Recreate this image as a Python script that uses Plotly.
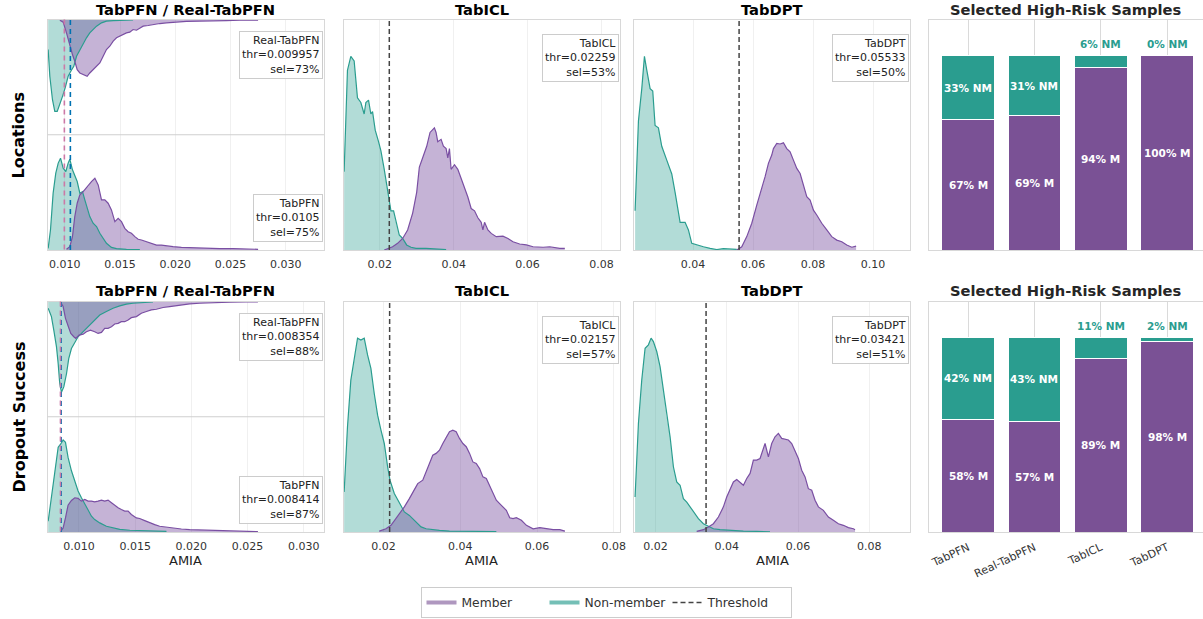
import plotly.graph_objects as go

# ---------------- DATA ----------------
models = ["TabPFN", "Real-TabPFN", "TabICL", "TabDPT"]

# Locations: selected high-risk samples (% member / % non-member)
loc_member_pct = [67, 69, 94, 100]
loc_nonmember_pct = [33, 31, 6, 0]
# Dropout Success
drop_member_pct = [58, 57, 89, 98]
drop_nonmember_pct = [42, 43, 11, 2]

# thresholds and selection rates
loc_thr = {"TabPFN": 0.0105, "Real-TabPFN": 0.009957, "TabICL": 0.02259, "TabDPT": 0.05533}
loc_sel = {"TabPFN": 75, "Real-TabPFN": 73, "TabICL": 53, "TabDPT": 50}
drop_thr = {"TabPFN": 0.008414, "Real-TabPFN": 0.008354, "TabICL": 0.02157, "TabDPT": 0.03421}
drop_sel = {"TabPFN": 87, "Real-TabPFN": 88, "TabICL": 57, "TabDPT": 51}

# AMIA density curves (relative density, % of panel height)
loc_tabpfn_nm_x = [0.00849, 0.00870, 0.00894, 0.00918, 0.00940, 0.00961, 0.00985, 0.01009, 0.01030, 0.01045, 0.01069, 0.01090, 0.01112, 0.01136, 0.01160, 0.01181, 0.01202, 0.01226, 0.01256, 0.01287, 0.01317, 0.01347, 0.01377, 0.01422, 0.01468, 0.01558, 0.01679]
loc_tabpfn_nm_d = [1.4, 17.4, 49.3, 66.7, 75.4, 79.7, 71.0, 68.1, 75.4, 78.8, 69.6, 65.2, 59.4, 49.3, 50.7, 43.5, 36.2, 29.0, 23.2, 20.3, 14.5, 10.1, 5.8, 2.3, 1.2, 0.6, 0.3]
loc_tabpfn_m_x = [0.01015, 0.01045, 0.01069, 0.01090, 0.01112, 0.01136, 0.01166, 0.01190, 0.01211, 0.01241, 0.01272, 0.01302, 0.01332, 0.01362, 0.01392, 0.01422, 0.01453, 0.01483, 0.01513, 0.01543, 0.01573, 0.01603, 0.01634, 0.01664, 0.01694, 0.01739, 0.01784, 0.01830, 0.01875, 0.01920, 0.01980, 0.02056, 0.02131, 0.02222, 0.02312, 0.02403, 0.02523, 0.02644, 0.02750]
loc_tabpfn_m_d = [0.6, 2.9, 11.6, 29.0, 40.6, 47.8, 50.7, 53.6, 55.1, 59.4, 62.3, 56.5, 43.5, 43.5, 40.6, 34.8, 24.6, 27.5, 24.6, 18.8, 15.9, 14.5, 11.6, 9.3, 8.7, 7.2, 5.8, 4.3, 4.3, 3.5, 2.9, 2.3, 2.0, 1.7, 1.4, 1.2, 1.2, 0.9, 0.6]

loc_real_nm_x = [0.00849, 0.00864, 0.00888, 0.00909, 0.00931, 0.00955, 0.00979, 0.01003, 0.01030, 0.01054, 0.01081, 0.01106, 0.01136, 0.01166, 0.01196, 0.01226, 0.01256, 0.01287, 0.01332, 0.01377, 0.01438, 0.01528, 0.01618]
loc_real_nm_d = [26.1, 49.3, 69.6, 79.7, 79.7, 73.9, 66.7, 59.4, 49.3, 44.9, 40.6, 31.9, 26.1, 20.3, 15.9, 11.6, 8.7, 5.8, 2.9, 1.4, 0.9, 0.6, 0.3]
loc_real_m_x = [0.00955, 0.00985, 0.01015, 0.01045, 0.01069, 0.01090, 0.01112, 0.01136, 0.01166, 0.01202, 0.01226, 0.01256, 0.01287, 0.01317, 0.01347, 0.01377, 0.01407, 0.01438, 0.01468, 0.01498, 0.01528, 0.01558, 0.01588, 0.01618, 0.01649, 0.01679, 0.01709, 0.01754, 0.01799, 0.01860, 0.01920, 0.02010, 0.02101, 0.02222, 0.02342, 0.02463, 0.02584, 0.02750]
loc_real_m_d = [0.6, 2.3, 11.6, 23.2, 30.4, 36.2, 43.5, 46.4, 47.8, 49.3, 46.4, 43.5, 40.6, 37.7, 31.9, 26.1, 23.2, 18.8, 15.9, 14.5, 13.0, 11.6, 11.0, 8.7, 9.3, 7.2, 5.8, 5.2, 4.3, 3.5, 2.9, 2.0, 1.7, 1.4, 0.9, 0.9, 0.6, 0.6]

loc_icl_nm_x = [0.01037, 0.01127, 0.01218, 0.01308, 0.01398, 0.01489, 0.01579, 0.01625, 0.01697, 0.01760, 0.01806, 0.01878, 0.01968, 0.02032, 0.02122, 0.02185, 0.02258, 0.02303, 0.02375, 0.02439, 0.02529, 0.02620, 0.02728, 0.02846, 0.02982, 0.03253, 0.03524, 0.03796]
loc_icl_nm_d = [34, 78, 84, 82, 66, 64, 59, 64, 65, 59, 60, 52, 47, 43, 35, 28, 22, 17, 17, 12, 6.5, 5, 2.2, 1.2, 0.7, 0.7, 0.4, 0.2]
loc_icl_m_x = [0.02122, 0.02348, 0.02484, 0.02620, 0.02755, 0.02891, 0.03000, 0.03072, 0.03162, 0.03271, 0.03361, 0.03479, 0.03524, 0.03570, 0.03660, 0.03723, 0.03796, 0.03841, 0.03886, 0.03931, 0.04022, 0.04112, 0.04203, 0.04293, 0.04384, 0.04474, 0.04565, 0.04655, 0.04745, 0.04791, 0.04836, 0.04926, 0.05017, 0.05152, 0.05333, 0.05469, 0.05605, 0.05786, 0.05967, 0.06148, 0.06419, 0.06600, 0.06871, 0.07007]
loc_icl_m_d = [0, 1.4, 2.9, 5, 8.7, 16, 25, 36, 40, 45, 51, 53, 51, 47, 48, 45, 44, 40, 44, 35, 37, 35, 31, 27, 23, 18, 17, 14, 12, 8.7, 12, 8.7, 7.2, 5.8, 6, 5, 3.6, 2.6, 2.2, 1.4, 1.2, 1.4, 0.7, 0.7]

loc_dpt_nm_x = [0.02067, 0.02178, 0.02289, 0.02378, 0.02456, 0.02567, 0.02655, 0.02733, 0.02844, 0.02955, 0.03122, 0.03289, 0.03400, 0.03567, 0.03733, 0.03844, 0.03955, 0.04122, 0.04344, 0.04567, 0.04789, 0.05011, 0.05233, 0.05456]
loc_dpt_nm_d = [17, 56, 70, 84, 78, 70, 69, 54, 53, 45, 39, 33, 25, 12, 12, 8.7, 2.9, 2.2, 1.4, 0.7, 0.2, 0.6, 0.3, 0.3]
loc_dpt_m_x = [0.05456, 0.05622, 0.05789, 0.05956, 0.06122, 0.06289, 0.06400, 0.06511, 0.06622, 0.06678, 0.06789, 0.06900, 0.07011, 0.07122, 0.07233, 0.07344, 0.07456, 0.07567, 0.07678, 0.07789, 0.07900, 0.08011, 0.08122, 0.08289, 0.08456, 0.08622, 0.08789, 0.08956, 0.09122, 0.09289, 0.09433]
loc_dpt_m_d = [0, 1.4, 5.8, 11.6, 19.5, 26.7, 31.8, 37.6, 41.2, 44, 46.2, 46, 46.5, 44, 42.6, 39, 35.4, 33.2, 28.2, 23.1, 21.7, 17.3, 15.2, 11.6, 8.7, 5.8, 4.3, 3.6, 2.2, 1.2, 1.7]

drop_tabpfn_nm_x = [0.00726, 0.00755, 0.00785, 0.00815, 0.00838, 0.00859, 0.00880, 0.00903, 0.00933, 0.00963, 0.00992, 0.01022, 0.01052, 0.01081, 0.01111, 0.01140, 0.01185, 0.01244, 0.01303, 0.01363, 0.01452, 0.01540, 0.01659, 0.01778]
drop_tabpfn_nm_d = [9.3, 29.7, 53.1, 73.5, 76.4, 79.9, 77.8, 64.7, 53.1, 44.3, 35.6, 29.7, 23.9, 18.1, 13.7, 10.8, 7.9, 5.0, 3.5, 2.3, 1.5, 1.2, 0.9, 0.6]
drop_tabpfn_m_x = [0.00838, 0.00859, 0.00880, 0.00903, 0.00933, 0.00963, 0.00992, 0.01022, 0.01052, 0.01081, 0.01111, 0.01140, 0.01170, 0.01200, 0.01229, 0.01259, 0.01289, 0.01318, 0.01348, 0.01377, 0.01407, 0.01437, 0.01466, 0.01511, 0.01540, 0.01585, 0.01629, 0.01674, 0.01718, 0.01778, 0.01837, 0.01911, 0.01985, 0.02074, 0.02192, 0.02311, 0.02429, 0.02592]
drop_tabpfn_m_d = [0.6, 3.5, 12.2, 23.3, 27.4, 29.7, 29.2, 26.8, 28.3, 26.8, 26.8, 26.2, 26.8, 27.7, 26.8, 27.7, 25.4, 23.0, 21.0, 19.5, 18.1, 18.1, 15.2, 12.2, 11.7, 9.9, 7.9, 6.4, 5.0, 4.1, 3.5, 2.6, 2.0, 1.7, 1.2, 0.9, 0.6, 0.3]

drop_real_nm_x = [0.00726, 0.00755, 0.00776, 0.00800, 0.00815, 0.00829, 0.00844, 0.00865, 0.00889, 0.00909, 0.00933, 0.00963, 0.00992, 0.01022, 0.01052, 0.01096, 0.01140, 0.01185, 0.01244, 0.01303, 0.01363, 0.01422, 0.01481, 0.01570, 0.01659]
drop_real_nm_d = [5.8, 13.1, 24.8, 39.4, 53.9, 71.4, 78.7, 74.1, 62.7, 49.6, 40.8, 35.0, 30.6, 27.7, 24.8, 20.4, 16.0, 11.7, 8.7, 5.8, 3.8, 2.3, 1.5, 0.6, 0.3]
drop_real_m_x = [0.00838, 0.00859, 0.00880, 0.00903, 0.00927, 0.00954, 0.00972, 0.01001, 0.01037, 0.01066, 0.01102, 0.01140, 0.01170, 0.01200, 0.01229, 0.01259, 0.01289, 0.01318, 0.01348, 0.01377, 0.01407, 0.01437, 0.01466, 0.01511, 0.01555, 0.01600, 0.01644, 0.01689, 0.01748, 0.01807, 0.01896, 0.01985, 0.02074, 0.02192, 0.02340, 0.02488, 0.02592]
drop_real_m_d = [0.9, 4.4, 14.6, 21.9, 27.7, 30.6, 32.1, 29.2, 28.3, 26.2, 24.8, 26.2, 27.7, 26.8, 23.3, 23.3, 21.9, 19.5, 19.0, 17.5, 17.5, 16.0, 14.0, 13.1, 10.2, 8.7, 7.3, 6.7, 5.2, 4.4, 3.2, 2.0, 1.5, 0.9, 0.6, 0.3, 0.3]

drop_icl_nm_x = [0.00972, 0.01059, 0.01146, 0.01234, 0.01321, 0.01408, 0.01495, 0.01582, 0.01669, 0.01756, 0.01844, 0.01931, 0.02018, 0.02105, 0.02166, 0.02279, 0.02366, 0.02454, 0.02541, 0.02671, 0.02846, 0.02976, 0.03107, 0.03281, 0.03456, 0.03717, 0.04066, 0.04501, 0.04937]
drop_icl_nm_d = [17.4, 45.7, 65.9, 74.6, 84.1, 83.3, 84.1, 76.8, 71.0, 60.1, 50.7, 44.2, 38.4, 28.3, 22.5, 16.7, 13.8, 10.9, 8.7, 7.2, 4.3, 2.2, 1.4, 1.0, 0.7, 0.4, 0.3, 0.3, 0.2]
drop_icl_m_x = [0.01887, 0.02061, 0.02192, 0.02323, 0.02453, 0.02541, 0.02671, 0.02802, 0.02889, 0.03020, 0.03107, 0.03194, 0.03281, 0.03368, 0.03456, 0.03543, 0.03630, 0.03717, 0.03804, 0.03891, 0.03978, 0.04066, 0.04153, 0.04240, 0.04327, 0.04414, 0.04501, 0.04588, 0.04676, 0.04763, 0.04850, 0.04937, 0.05024, 0.05111, 0.05198, 0.05286, 0.05373, 0.05460, 0.05591, 0.05721, 0.05896, 0.06070, 0.06244, 0.06418, 0.06593, 0.06723]
drop_icl_m_d = [0.4, 1.4, 2.9, 5.8, 8.7, 10.9, 14.5, 18.8, 21.0, 22.5, 26.1, 29.7, 33.3, 34.1, 35.5, 38.4, 41.3, 43.5, 44.2, 43.5, 40.6, 38.4, 37.0, 34.1, 30.4, 29.7, 27.5, 23.9, 23.2, 20.3, 16.7, 13.8, 12.3, 10.9, 9.4, 6.2, 5.8, 6.2, 5.1, 2.9, 1.4, 1.9, 1.4, 1.0, 1.0, 0.4]

drop_dpt_nm_x = [0.01430, 0.01524, 0.01617, 0.01711, 0.01804, 0.01879, 0.01944, 0.02038, 0.02131, 0.02225, 0.02318, 0.02412, 0.02505, 0.02598, 0.02692, 0.02785, 0.02879, 0.02972, 0.03066, 0.03206, 0.03346, 0.03486, 0.03627, 0.03813, 0.04094, 0.04468, 0.04841, 0.05215]
drop_dpt_nm_d = [15.2, 47.1, 65.9, 79.7, 81.2, 84.1, 82.6, 78.3, 71.7, 61.6, 50.0, 41.3, 28.3, 21.7, 20.3, 14.5, 13.0, 10.9, 8.7, 5.8, 3.6, 2.5, 1.4, 1.0, 0.7, 0.4, 0.3, 0.1]
drop_dpt_m_x = [0.03159, 0.03346, 0.03486, 0.03627, 0.03767, 0.03907, 0.04000, 0.04094, 0.04187, 0.04281, 0.04374, 0.04468, 0.04561, 0.04655, 0.04748, 0.04841, 0.04935, 0.05075, 0.05169, 0.05262, 0.05355, 0.05449, 0.05542, 0.05636, 0.05729, 0.05823, 0.05916, 0.06010, 0.06103, 0.06197, 0.06290, 0.06384, 0.06477, 0.06571, 0.06711, 0.06851, 0.06991, 0.07131, 0.07271, 0.07412, 0.07552, 0.07599]
drop_dpt_m_d = [0.3, 1.0, 2.2, 3.6, 6.5, 10.9, 15.2, 18.8, 21.7, 22.8, 21.7, 20.3, 23.2, 25.4, 31.2, 31.2, 31.9, 38.4, 32.6, 38.4, 41.3, 42.8, 40.6, 40.1, 39.9, 38.4, 35.5, 31.9, 26.8, 23.9, 18.8, 18.1, 13.8, 10.9, 9.4, 6.5, 5.1, 3.6, 2.9, 1.9, 1.4, 1.0]

# ---------------- STYLE ----------------
FONT = "DejaVu Sans"
W, H = 1203, 619
PURPLE_LINE = "#7a4fa3"
PURPLE_FILL = "rgba(117,74,157,0.42)"
TEAL_LINE = "#2a9d8f"
TEAL_FILL = "rgba(42,157,143,0.36)"
BAR_M = "#7a5195"
BAR_NM = "#2a9d8f"
PINK = "#CC79A7"
BLUE = "#0072B2"
FRAME = "#d8d8d8"
TICKC = "#333333"

col_px = [(47.5, 324), (343.5, 620), (634, 910), (929, 1203)]
row_px = [(19.5, 250), (301.5, 532)]


def fx(p):
    return p / W


def fy(p):
    return 1 - p / H


def ref(i, k):
    return k if i == 1 else f"{k}{i}"


fig = go.Figure()


def add_rising(i, x, d, fill):
    assert len(x) == len(d)
    fig.add_trace(go.Scatter(x=x, y=d, mode="none", fill="tozeroy", fillcolor=fill,
                             xaxis=ref(i, "x"), yaxis=ref(i, "y"), showlegend=False, hoverinfo="skip"))


def add_hanging(i, x, d, fill, top=200):
    assert len(x) == len(d)
    ys = [top - v for v in d] + [top] * len(x)
    xs = list(x) + list(reversed(x))
    fig.add_trace(go.Scatter(x=xs, y=ys, mode="none", fill="toself", fillcolor=fill,
                             xaxis=ref(i, "x"), yaxis=ref(i, "y"), showlegend=False, hoverinfo="skip"))


def add_line(i, x, y, color):
    fig.add_trace(go.Scatter(x=x, y=y, mode="lines", line=dict(color=color, width=1.2),
                             xaxis=ref(i, "x"), yaxis=ref(i, "y"), showlegend=False, hoverinfo="skip"))


rows = [
    dict(real=(loc_real_m_x, loc_real_m_d, loc_real_nm_x, loc_real_nm_d),
         tabpfn=(loc_tabpfn_m_x, loc_tabpfn_m_d, loc_tabpfn_nm_x, loc_tabpfn_nm_d),
         icl=(loc_icl_m_x, loc_icl_m_d, loc_icl_nm_x, loc_icl_nm_d),
         dpt=(loc_dpt_m_x, loc_dpt_m_d, loc_dpt_nm_x, loc_dpt_nm_d),
         thr=loc_thr, sel=loc_sel, m=loc_member_pct, nm=loc_nonmember_pct,
         xr=[[0.00843, 0.03347], [0.0102, 0.0850], [0.0203, 0.1123]],
         ticks=[[0.010, 0.015, 0.020, 0.025, 0.030], [0.02, 0.04, 0.06, 0.08], [0.04, 0.06, 0.08, 0.10]]),
    dict(real=(drop_real_m_x, drop_real_m_d, drop_real_nm_x, drop_real_nm_d),
         tabpfn=(drop_tabpfn_m_x, drop_tabpfn_m_d, drop_tabpfn_nm_x, drop_tabpfn_nm_d),
         icl=(drop_icl_m_x, drop_icl_m_d, drop_icl_nm_x, drop_icl_nm_d),
         dpt=(drop_dpt_m_x, drop_dpt_m_d, drop_dpt_nm_x, drop_dpt_nm_d),
         thr=drop_thr, sel=drop_sel, m=drop_member_pct, nm=drop_nonmember_pct,
         xr=[[0.0072, 0.0318], [0.00955, 0.0816], [0.0140, 0.0914]],
         ticks=[[0.010, 0.015, 0.020, 0.025, 0.030], [0.02, 0.04, 0.06, 0.08], [0.02, 0.04, 0.06, 0.08]]),
]

layout = {}
annotations = []
shapes = []

for r, R in enumerate(rows):
    base = r * 4
    # --- column 1: mirrored TabPFN (bottom) / Real-TabPFN (top)
    i = base + 1
    mx, md, nx, nd = R["tabpfn"]
    add_rising(i, nx, nd, TEAL_FILL)
    add_rising(i, mx, md, PURPLE_FILL)
    rmx, rmd, rnx, rnd = R["real"]
    add_hanging(i, rnx, rnd, TEAL_FILL)
    add_hanging(i, rmx, rmd, PURPLE_FILL)
    add_line(i, nx, nd, TEAL_LINE)
    add_line(i, mx, md, PURPLE_LINE)
    add_line(i, rnx, [200 - v for v in rnd], TEAL_LINE)
    add_line(i, rmx, [200 - v for v in rmd], PURPLE_LINE)
    shapes.append(dict(type="line", xref=f"{ref(i, 'x')} domain", yref=ref(i, "y"), x0=0, x1=1, y0=100, y1=100,
                       line=dict(color="#cfcfcf", width=1.2), layer="above"))
    # TabPFN threshold drawn bottom-up, Real-TabPFN top-down so the dashes interleave when they coincide
    tb = R["thr"]["TabPFN"]
    shapes.append(dict(type="line", xref=ref(i, "x"), yref=f"{ref(i, 'y')} domain", x0=tb, x1=tb, y0=0, y1=1,
                       line=dict(color=BLUE, width=1.6, dash="5px,4px"), layer="above"))
    tr = R["thr"]["Real-TabPFN"]
    shapes.append(dict(type="line", xref=ref(i, "x"), yref=f"{ref(i, 'y')} domain", x0=tr, x1=tr, y0=1, y1=0,
                       line=dict(color=PINK, width=1.6, dash="5px,4px"), layer="above"))
    # --- columns 2 and 3
    for c, key, name in ((1, "icl", "TabICL"), (2, "dpt", "TabDPT")):
        i = base + c + 1
        mx, md, nx, nd = R[key]
        add_rising(i, nx, nd, TEAL_FILL)
        add_rising(i, mx, md, PURPLE_FILL)
        add_line(i, nx, nd, TEAL_LINE)
        add_line(i, mx, md, PURPLE_LINE)
        t = R["thr"][name]
        shapes.append(dict(type="line", xref=ref(i, "x"), yref=f"{ref(i, 'y')} domain", x0=t, x1=t, y0=0, y1=1,
                           line=dict(color="#444444", width=1.5, dash="5px,3px"), layer="above"))
    # --- column 4: stacked bars
    i = base + 4
    fig.add_trace(go.Bar(x=models, y=R["m"], marker=dict(color=BAR_M, line=dict(color="white", width=1)),
                         width=0.79, xaxis=ref(i, "x"), yaxis=ref(i, "y"), showlegend=False, hoverinfo="skip"))
    fig.add_trace(go.Bar(x=models, y=R["nm"], marker=dict(color=BAR_NM, line=dict(color="white", width=1)),
                         width=0.79, xaxis=ref(i, "x"), yaxis=ref(i, "y"), showlegend=False, hoverinfo="skip"))
    for mdl, mv, nv in zip(models, R["m"], R["nm"]):
        annotations.append(dict(xref=ref(i, "x"), yref=ref(i, "y"), x=mdl, y=mv / 2, text=f"{mv}% M",
                                showarrow=False, font=dict(family=FONT, size=10.5, color="white", weight="bold")))
        if nv >= 15:
            annotations.append(dict(xref=ref(i, "x"), yref=ref(i, "y"), x=mdl, y=mv + nv / 2, text=f"{nv}% NM",
                                    showarrow=False, font=dict(family=FONT, size=10.5, color="white", weight="bold")))
        else:
            annotations.append(dict(xref=ref(i, "x"), yref=ref(i, "y"), x=mdl, y=mv + nv, yshift=11,
                                    text=f"{nv}% NM", showarrow=False,
                                    font=dict(family=FONT, size=10.5, color=BAR_NM, weight="bold")))

    # --- axes
    ry = row_px[r]
    for c in range(4):
        i = base + c + 1
        xd = [fx(col_px[c][0]), fx(col_px[c][1])]
        yd = [fy(ry[1]), fy(ry[0])]
        xa = dict(domain=xd, anchor=ref(i, "y"), showline=True, mirror=True, linecolor=FRAME, linewidth=1,
                  zeroline=False, ticks="", tickfont=dict(family=FONT, size=11, color=TICKC), ticklabelstandoff=4,
                  automargin=False)
        ya = dict(domain=yd, anchor=ref(i, "x"), showline=True, mirror=True, linecolor=FRAME, linewidth=1,
                  zeroline=False, showgrid=False, showticklabels=False, ticks="", automargin=False)
        if c < 3:
            xa.update(range=R["xr"][c], tickvals=R["ticks"][c], tickformat=".3f" if c == 0 else ".2f",
                      showgrid=True, gridcolor="#f0f0f0", gridwidth=1)
            ya.update(range=[0, 200] if c == 0 else [0, 100])
        else:
            xa.update(type="category", categoryarray=models, categoryorder="array", range=[-0.59, 3.54],
                      showgrid=True, gridcolor="#dadada", gridwidth=1, tickangle=-25,
                      showticklabels=(r == 1))
            ya.update(range=[0, 118.5])
        layout[ref(i, "xaxis")] = xa
        layout[ref(i, "yaxis")] = ya

    # --- titles
    ty = 9 if r == 0 else 290
    for c, title in enumerate(["TabPFN / Real-TabPFN", "TabICL", "TabDPT", "Selected High-Risk Samples"]):
        annotations.append(dict(xref="paper", yref="paper", x=fx((col_px[c][0] + col_px[c][1]) / 2), y=fy(ty),
                                text=title, showarrow=False, xanchor="center", yanchor="middle",
                                font=dict(family=FONT, size=14.7, weight="bold",
                                          color="#262626" if c == 3 else "#000000")))

    # --- info boxes
    def box(i, text, x, y, yanchor):
        annotations.append(dict(xref=f"{ref(i, 'x')} domain", yref=f"{ref(i, 'y')} domain", x=x, y=y,
                                xanchor="right", yanchor=yanchor, align="right", text=text, showarrow=False,
                                font=dict(family=FONT, size=11, color="#222222"), bgcolor="rgba(255,255,255,0.85)",
                                bordercolor="#cccccc", borderwidth=1, borderpad=2))

    def txt(name):
        return f"{name}<br>thr={R['thr'][name]:.4g}<br>sel={R['sel'][name]}%"

    box(base + 1, txt("Real-TabPFN"), 0.995, 0.952, "top")
    box(base + 1, txt("TabPFN"), 0.995, 0.035, "bottom")
    box(base + 2, txt("TabICL"), 0.995, 0.935, "top")
    box(base + 3, txt("TabDPT"), 0.995, 0.935, "top")

# row labels
annotations.append(dict(xref="paper", yref="paper", x=fx(18.5), y=fy(135), text="Locations", textangle=-90,
                        xanchor="center", yanchor="middle", showarrow=False,
                        font=dict(family=FONT, size=16, weight="bold", color="#000000")))
annotations.append(dict(xref="paper", yref="paper", x=fx(18.5), y=fy(417), text="Dropout Success", textangle=-90,
                        xanchor="center", yanchor="middle", showarrow=False,
                        font=dict(family=FONT, size=16, weight="bold", color="#000000")))
# x-axis titles
for c in range(3):
    annotations.append(dict(xref="paper", yref="paper", x=fx((col_px[c][0] + col_px[c][1]) / 2), y=fy(560),
                            text="AMIA", showarrow=False, xanchor="center", yanchor="middle",
                            font=dict(family=FONT, size=13, color="#222222")))

# legend entries
fig.add_trace(go.Scatter(x=[None], y=[None], mode="lines", name="Member",
                         line=dict(color="rgba(122,81,149,0.6)", width=4)))
fig.add_trace(go.Scatter(x=[None], y=[None], mode="lines", name="Non-member",
                         line=dict(color="rgba(42,157,143,0.65)", width=4)))
fig.add_trace(go.Scatter(x=[None], y=[None], mode="lines", name="Threshold",
                         line=dict(color="#444444", width=1.5, dash="5px,3px")))

fig.update_layout(
    width=W, height=H, margin=dict(l=0, r=0, t=0, b=0, autoexpand=False), autosize=False,
    paper_bgcolor="white", plot_bgcolor="white", barmode="stack",
    font=dict(family=FONT, color=TICKC),
    showlegend=True,
    legend=dict(orientation="h", x=fx(606), xanchor="center", y=fy(587), yanchor="top",
                traceorder="normal", itemwidth=30, entrywidth=78, entrywidthmode="pixels",
                bordercolor="#cccccc", borderwidth=1, bgcolor="white",
                font=dict(family=FONT, size=12.3, color="#333333")),
    annotations=annotations, shapes=shapes,
    **layout,
)

fig.write_html("out.html")
